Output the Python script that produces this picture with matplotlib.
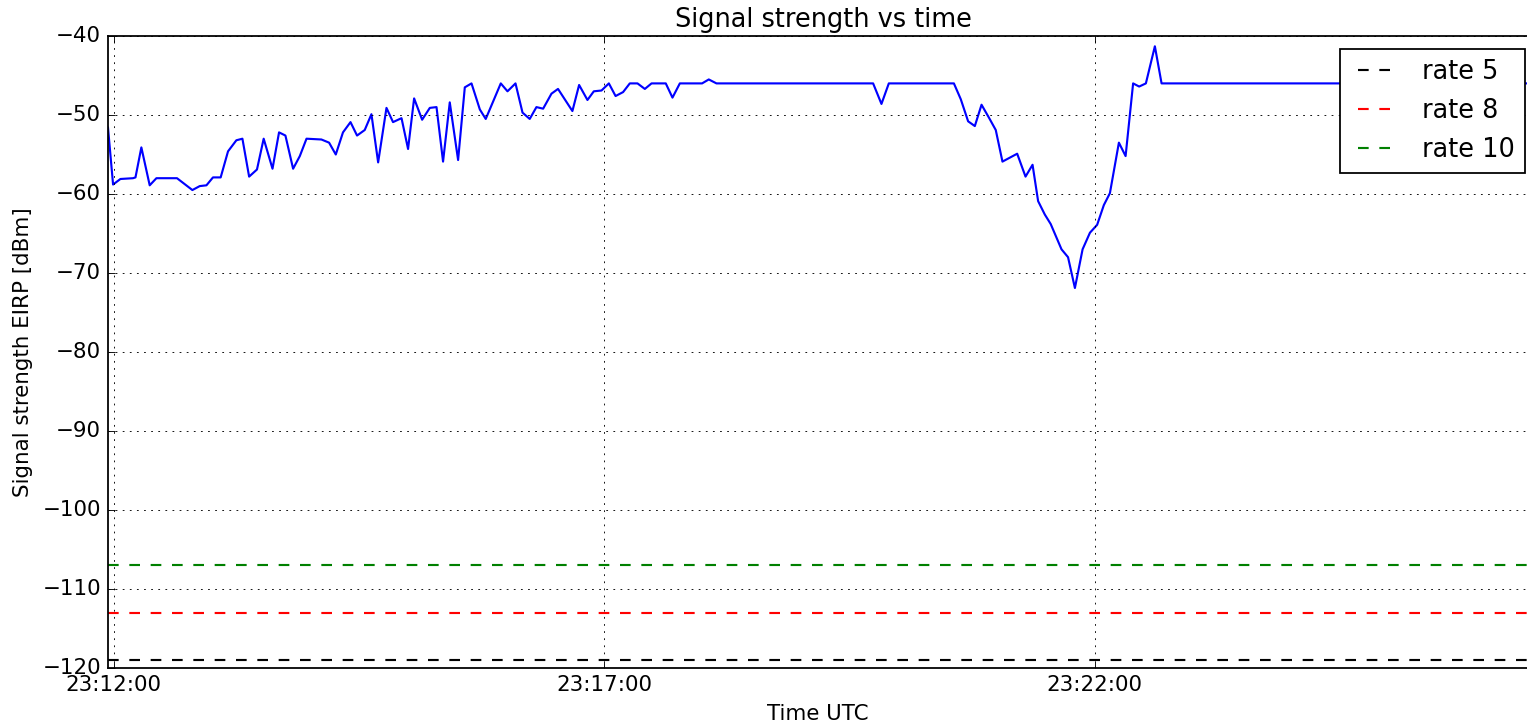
import datetime as dt
import matplotlib
matplotlib.use("Agg")
import matplotlib.pyplot as plt
import matplotlib.dates as mdates

plt.style.use("classic")

# seconds after 23:12:00 UTC
t_offset_s = [-3.5, -0.4, 4.1, 11.8, 13.3, 16.9, 22.0, 26.1, 38.7, 48.1, 52.6, 56.7,
              60.7, 65.4, 69.9, 75.0, 78.7, 82.8, 87.6, 91.7, 97.1, 101.1, 105.0,
              109.7, 113.8, 117.9, 127.0, 131.7, 135.8, 140.2, 144.8, 148.8, 153.5,
              157.6, 161.7, 166.8, 170.8, 176.0, 180.0, 183.7, 188.6, 193.3, 197.4,
              201.4, 205.5, 210.6, 214.7, 218.8, 223.9, 227.5, 232.0, 236.7, 240.8,
              245.7, 250.0, 254.4, 258.5, 262.6, 267.7, 271.7, 280.5, 284.6, 289.7,
              293.6, 298.3, 302.8, 306.9, 311.5, 315.6, 320.3, 324.8, 328.9, 337.6,
              341.7, 346.2, 359.8, 363.9, 368.6, 464.4, 469.5, 474.0, 513.8, 518.0,
              522.5, 526.6, 530.7, 535.4, 539.4, 543.5, 552.5, 557.6, 561.9, 565.3,
              569.4, 573.0, 579.6, 583.6, 587.8, 592.5, 597.0, 601.4, 605.5, 609.2,
              614.7, 618.8, 623.4, 627.1, 631.2, 636.7, 640.8, 871.0]
signal_dbm = [-51.6, -58.8, -58.1, -58.0, -57.9, -54.1, -58.9, -58.0, -58.0, -59.5, -59.0, -58.9,
              -57.9, -57.9, -54.6, -53.2, -53.0, -57.8, -56.9, -53.0, -56.8, -52.2, -52.6,
              -56.8, -55.2, -53.0, -53.1, -53.5, -55.0, -52.2, -50.9, -52.6, -51.9,
              -49.9, -56.0, -49.1, -50.9, -50.4, -54.3, -47.9, -50.6, -49.1, -49.0,
              -55.9, -48.4, -55.7, -46.5, -46.0, -49.3, -50.5, -48.3, -46.0, -47.0,
              -46.0, -49.7, -50.5, -49.0, -49.2, -47.3, -46.7, -49.5, -46.2, -48.1,
              -47.0, -46.9, -46.0, -47.6, -47.1, -46.0, -46.0, -46.7, -46.0, -46.0,
              -47.8, -46.0, -46.0, -45.5, -46.0, -46.0, -48.6, -46.0, -46.0, -48.0,
              -50.8, -51.4, -48.7, -50.4, -51.9, -55.9, -54.9, -57.8, -56.3, -60.9,
              -62.6, -63.8, -67.0, -68.0, -71.9, -67.0, -64.9, -63.9, -61.4, -59.9,
              -53.5, -55.2, -46.0, -46.4, -46.0, -41.3, -46.0, -46.0]

rate_names = ["rate 5", "rate 8", "rate 10"]
rate_levels = [-119, -113, -107]
rate_colors = ["k", "r", "g"]

base = dt.datetime(2016, 1, 1, 23, 12, 0)
times = [base + dt.timedelta(seconds=s) for s in t_offset_s]

dpi = 128
fig = plt.figure(figsize=(1527 / dpi, 725 / dpi), dpi=dpi, facecolor="white")
left_px, right_px = 108, 1538
ax = fig.add_axes([left_px / 1527, 1 - 668 / 725, (right_px - left_px) / 1527, (668 - 36) / 725])

ax.plot(times, signal_dbm, color="b", linewidth=1.2)
for name, lvl, c in zip(rate_names, rate_levels, rate_colors):
    ax.axhline(lvl, color=c, linestyle="--", linewidth=1.2, label=name)

ax.set_xlim(times[0], times[-1])
ax.set_ylim(-120, -40)
ax.xaxis.set_major_locator(mdates.MinuteLocator(byminute=range(2, 60, 5)))
ax.xaxis.set_major_formatter(mdates.DateFormatter("%H:%M:%S"))
ax.grid(True)
ax.set_title("Signal strength vs time")
ax.set_xlabel("Time UTC", x=(818 - 108) / (right_px - left_px))
ax.set_ylabel("Signal strength EIRP [dBm]")
ax.legend(loc="upper right")

fig.savefig("out.png", dpi=dpi, facecolor="white")
